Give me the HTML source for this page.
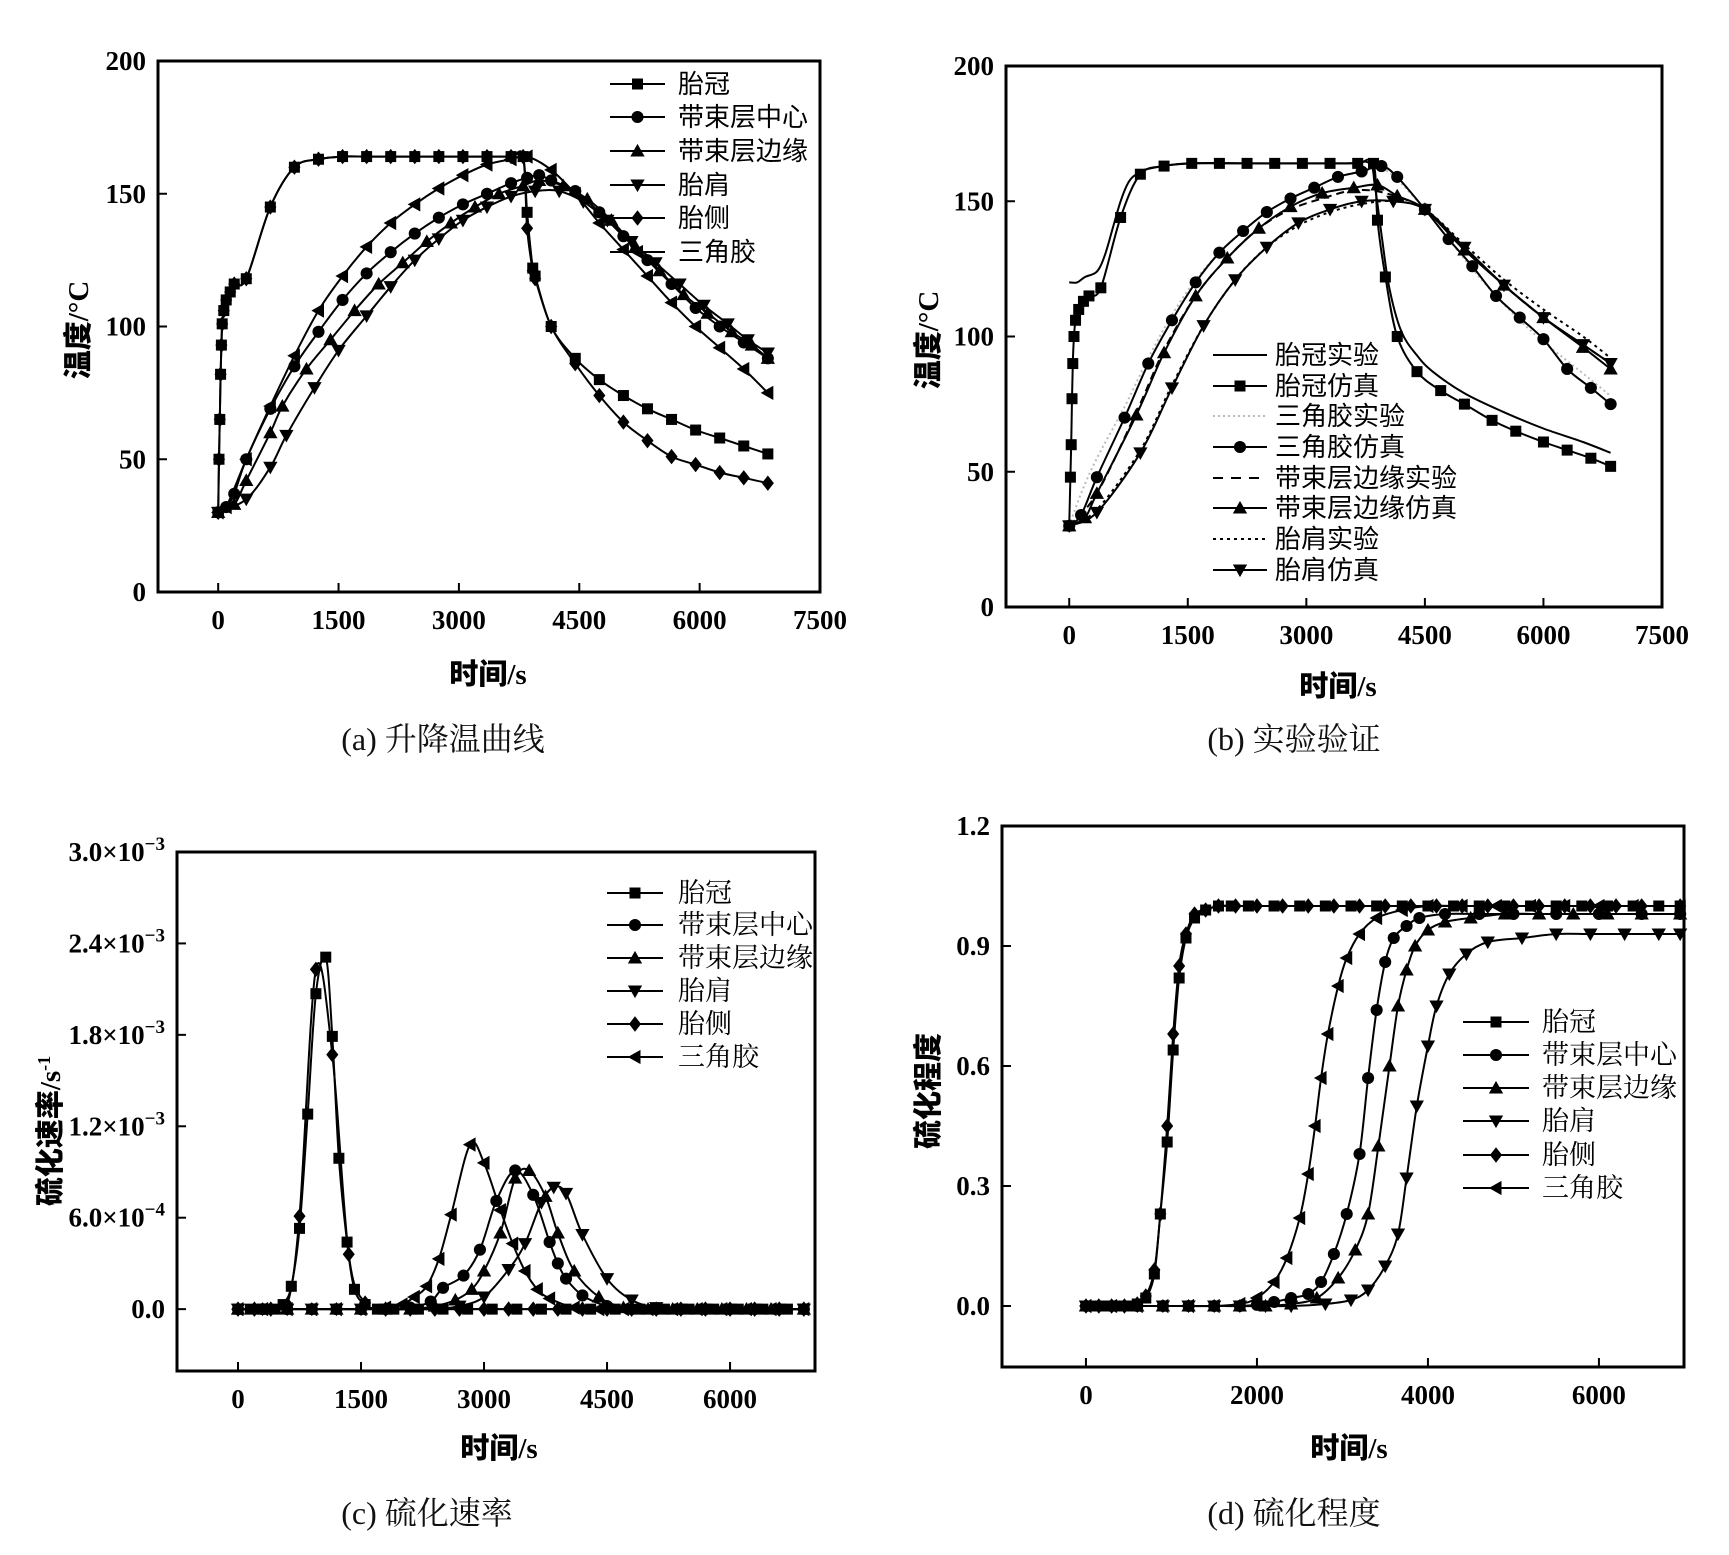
<!DOCTYPE html>
<html><head><meta charset="utf-8">
<style>
html,body{margin:0;padding:0;background:#fff;}
svg{display:block;}
.tick{font-family:"Liberation Serif","Noto Serif CJK SC",serif;font-weight:bold;font-size:27px;fill:#000;}
.ttl{font-family:"Liberation Serif","Noto Sans CJK SC",sans-serif;font-weight:900;font-size:29px;fill:#000;}
.cap{font-family:"Liberation Serif","Noto Serif CJK SC",serif;font-size:32px;fill:#111;}
.lg{font-family:"Liberation Serif","Noto Serif CJK SC",serif;font-size:27px;fill:#000;}
.lgs{font-family:"Liberation Sans","Noto Sans CJK SC",sans-serif;font-size:26px;fill:#000;}
</style></head>
<body>
<svg id="fig" width="1729" height="1555" viewBox="0 0 1729 1555" xmlns="http://www.w3.org/2000/svg">
<text class="cap" x="443" y="750" text-anchor="middle">(a) 升降温曲线</text>
<text class="cap" x="1294" y="750" text-anchor="middle">(b) 实验验证</text>
<text class="cap" x="427" y="1524" text-anchor="middle">(c) 硫化速率</text>
<text class="cap" x="1294" y="1524" text-anchor="middle">(d) 硫化程度</text>
<text class="ttl" x="488" y="684" text-anchor="middle">时间/s</text>
<text class="ttl" x="1338" y="696" text-anchor="middle">时间/s</text>
<text class="ttl" x="499" y="1458" text-anchor="middle">时间/s</text>
<text class="ttl" x="1349" y="1458" text-anchor="middle">时间/s</text>
<text class="ttl" transform="translate(88,330) rotate(-90)" text-anchor="middle">温度/°C</text>
<text class="ttl" transform="translate(938,340) rotate(-90)" text-anchor="middle">温度/°C</text>
<text class="ttl" transform="translate(60,1131) rotate(-90)" text-anchor="middle">硫化速率/s<tspan dy="-10" font-size="18">-1</tspan></text>
<text class="ttl" transform="translate(938,1091) rotate(-90)" text-anchor="middle">硫化程度</text>
</svg>
<script>
// ---------- Panel (a) data: time (s) and temperature (°C) ----------
const aRiseT = [0,10,20,30,40,50,70,100,150,200,350,650,950,1250,1550,1850,2150,2450,2750,3050,3350,3650,3800];
const aRiseV = [30,50,65,82,93,101,106,110,113,116,118,145,160,163,164,164,164,164,164,164,164,164,164];
const aCrownT = [3850,3920,3950,4150,4450,4750,5050,5350,5650,5950,6250,6550,6850];
const aCrownV = [143,122,119,100,88,80,74,69,65,61,58,55,52];
const aSideT = [3850,3920,3950,4150,4450,4750,5050,5350,5650,5950,6250,6550,6850];
const aSideV = [137,121,118,100,86,74,64,57,51,48,45,43,41];
const aApexT = [0,100,350,650,950,1250,1550,1850,2150,2450,2750,3050,3350,3650,3850,4150,4450,4750,5050,5350,5650,5950,6250,6550,6850];
const aApexV = [30,32,50,70,89,106,119,130,139,146,152,157,161,163,164,159,150,139,129,119,109,100,92,84,75];
const aBeltCT = [0,100,200,350,650,950,1250,1550,1850,2150,2450,2750,3050,3350,3650,3850,4000,4150,4450,4750,5050,5350,5650,5950,6250,6550,6850];
const aBeltCV = [30,32,37,50,69,85,98,110,120,128,135,141,146,150,154,156,157,155,151,143,134,125,116,107,100,94,88];
const aBeltET = [0,200,350,650,800,1100,1400,1700,2000,2300,2600,2900,3200,3500,3800,4000,4300,4600,4900,5200,5500,5800,6100,6400,6650,6850];
const aBeltEV = [30,33,42,60,70,84,95,106,116,124,132,139,145,150,153,155,153,148,140,130,121,112,105,98,93,88];
const aShT = [0,350,650,850,1200,1500,1850,2150,2450,2750,3050,3350,3650,3950,4250,4550,4850,5150,5450,5750,6050,6350,6600,6850];
const aShV = [30,35,47,59,77,91,104,115,125,133,140,145,149,151,151,147,140,132,124,116,108,101,95,90];

// ---------- Panel (b) data ----------
const bCrownExpT = [0,100,200,350,450,550,650,750,850,1000,1500,2500,3500,3800,3870,3950,4050,4200,4400,4600,5000,5500,6000,6500,6850];
const bCrownExpV = [120,120,122,124,130,140,150,157,160,162,164,164,164,164,155,138,118,102,93,87,79,72,66,61,57];
const bCrownSimT = [0,15,25,35,45,60,80,120,180,250,400,650,900,1200,1550,1900,2250,2600,2950,3300,3650,3850,3900,4000,4150,4400,4700,5000,5350,5650,6000,6300,6600,6850];
const bCrownSimV = [30,48,60,77,90,100,106,110,113,115,118,144,160,163,164,164,164,164,164,164,164,164,143,122,100,87,80,75,69,65,61,58,55,52];
const bApexExpT = [0,150,350,700,1000,1300,1600,1900,2200,2500,2800,3100,3400,3700,3950,4150,4500,4800,5100,5400,5700,6000,6300,6600,6850];
const bApexExpV = [30,42,55,74,92,108,121,131,139,146,151,155,159,161,162,158,147,136,125,115,106,98,91,84,78];
const bApexSimT = [0,150,350,700,1000,1300,1600,1900,2200,2500,2800,3100,3400,3700,3950,4150,4500,4800,5100,5400,5700,6000,6300,6600,6850];
const bApexSimV = [30,34,48,70,90,106,120,131,139,146,151,155,159,161,163,159,147,136,126,115,107,99,88,81,75];
const bBeltExpT = [0,350,850,1200,1600,2000,2400,2800,3200,3600,4000,4500,5000,5500,6000,6500,6850];
const bBeltExpV = [30,42,72,95,115,129,140,147,151,154,153,147,133,119,107,97,90];
const bBeltSimT = [0,200,350,850,1200,1600,2000,2400,2800,3200,3600,3900,4150,4500,5000,5500,6000,6500,6850];
const bBeltSimV = [30,33,42,71,94,115,129,140,148,153,155,156,152,147,132,119,107,96,88];
const bShExpT = [0,350,900,1300,1700,2100,2500,2900,3300,3700,4100,4500,5000,5500,6000,6500,6850];
const bShExpV = [30,36,58,82,104,121,133,141,146,149,150,147,134,121,110,100,92];
const bShSimT = [0,350,900,1300,1700,2100,2500,2900,3300,3700,4100,4500,5000,5500,6000,6500,6850];
const bShSimV = [30,35,57,81,104,121,133,142,147,150,150,147,133,119,107,97,90];

// ---------- Panel (c) data: rate in units of 1e-4 /s ----------
const cCrownT = [0,150,300,450,550,650,750,850,950,1070,1150,1230,1330,1420,1550,1700,1900,2200,2500,2800,3100,3400,3700,4000,4300,4600,4900,5200,5500,5800,6100,6400,6700,6900];
const cCrownV = [0,0,0,0,0.3,1.5,5.3,12.8,20.7,23.1,17.9,9.9,4.4,1.3,0.3,0,0,0,0,0,0,0,0,0,0,0,0,0,0,0,0,0,0,0];
const cSideT = [0,200,400,600,750,950,1150,1350,1550,1800,2100,2400,2700,3000,3300,3600,3900,4200,4500,4800,5100,5400,5700,6000,6300,6600,6900];
const cSideV = [0,0,0,0.3,6.1,22.3,16.7,3.6,0.4,0,0,0,0,0,0,0,0,0,0,0,0,0,0,0,0,0,0,0];
const cApexT = [0,300,600,900,1200,1500,1800,2000,2150,2300,2450,2600,2830,3000,3200,3350,3500,3650,3800,4100,4400,4700,5000,5300,5600,5900,6200,6500,6900];
const cApexV = [0,0,0,0,0,0,0.1,0.3,0.8,1.5,3.3,6.2,10.8,9.6,6.5,4.3,2.5,1.3,0.7,0.1,0,0,0,0,0,0,0,0,0];
const cBeltCT = [0,300,600,900,1200,1500,1800,2100,2350,2500,2750,2950,3150,3380,3600,3800,3900,4000,4200,4500,4800,5100,5400,5700,6000,6300,6600,6900];
const cBeltCV = [0,0,0,0,0,0,0,0.1,0.5,1.4,2.2,3.9,7.1,9.1,7.5,4.4,3.0,2.0,0.9,0.2,0,0,0,0,0,0,0,0];
const cBeltET = [0,300,600,900,1200,1500,1800,2100,2400,2650,2850,3000,3200,3380,3550,3750,3900,4100,4400,4700,5000,5300,5600,5900,6200,6500,6900];
const cBeltEV = [0,0,0,0,0,0,0,0,0.2,0.6,1.3,2.5,5.0,8.6,9.1,7.4,5.0,2.5,0.8,0.1,0,0,0,0,0,0,0];
const cShT = [0,300,600,900,1200,1500,1800,2100,2400,2700,3000,3300,3500,3700,3850,4000,4200,4500,4800,5100,5400,5700,6000,6300,6600,6900];
const cShV = [0,0,0,0,0,0,0,0,0,0.2,0.8,2.6,4.3,7.0,8.0,7.6,4.9,2.0,0.6,0.1,0,0,0,0,0,0];

// ---------- Panel (d) data: cure degree ----------
const dCrownT = [0,100,200,300,400,500,600,700,800,870,950,1020,1090,1170,1270,1400,1550,1700,1900,2200,2500,2800,3100,3400,3700,4000,4300,4600,4900,5200,5500,5800,6100,6400,6700,6950];
const dCrownV = [0,0,0,0,0,0,0.005,0.02,0.08,0.23,0.41,0.64,0.82,0.92,0.97,0.99,1,1,1,1,1,1,1,1,1,1,1,1,1,1,1,1,1,1,1,1];
const dSideT = [0,150,300,450,600,700,800,870,950,1020,1090,1170,1270,1400,1550,1750,2000,2300,2600,2900,3200,3500,3800,4100,4400,4700,5000,5300,5600,5900,6200,6500,6950];
const dSideV = [0,0,0,0,0.005,0.025,0.09,0.23,0.45,0.68,0.85,0.93,0.98,0.99,1,1,1,1,1,1,1,1,1,1,1,1,1,1,1,1,1,1,1];
const dApexT = [0,300,600,900,1200,1500,1800,2000,2200,2350,2500,2600,2680,2750,2830,2950,3050,3200,3400,3700,4000,4400,4800,5200,5600,6000,6400,6950];
const dApexV = [0,0,0,0,0,0,0.005,0.02,0.06,0.12,0.22,0.33,0.45,0.57,0.68,0.8,0.87,0.93,0.97,0.99,1,1,1,1,1,1,1,1];
const dBeltCT = [0,300,600,900,1200,1500,1800,2000,2200,2400,2600,2750,2900,3050,3200,3300,3400,3500,3600,3750,3900,4200,4600,5000,5500,6000,6500,6950];
const dBeltCV = [0,0,0,0,0,0,0,0.003,0.01,0.02,0.03,0.06,0.13,0.23,0.38,0.57,0.74,0.86,0.92,0.95,0.97,0.98,0.98,0.98,0.98,0.98,0.98,0.98];
const dBeltET = [0,300,600,900,1200,1500,1800,2100,2400,2700,2950,3150,3300,3420,3550,3650,3750,3850,4000,4200,4500,4900,5300,5700,6100,6500,6950];
const dBeltEV = [0,0,0,0,0,0,0,0,0.005,0.02,0.07,0.14,0.23,0.4,0.6,0.75,0.84,0.9,0.94,0.96,0.97,0.98,0.98,0.98,0.98,0.98,0.98];
const dShT = [0,300,600,900,1200,1500,1800,2100,2400,2800,3100,3300,3500,3650,3750,3870,4000,4100,4250,4450,4700,5100,5500,5900,6300,6700,6950];
const dShV = [0,0,0,0,0,0,0,0,0,0.005,0.015,0.04,0.1,0.18,0.32,0.5,0.65,0.75,0.83,0.88,0.91,0.92,0.93,0.93,0.93,0.93,0.93];

const NS = 'http://www.w3.org/2000/svg';
const fig = document.getElementById('fig');
function mk(tag, attrs, parent) {
  const e = document.createElementNS(NS, tag);
  for (const k in attrs) e.setAttribute(k, attrs[k]);
  (parent || fig).appendChild(e);
  return e;
}
function makeAxis(L, R, T, B, x0, x1, y0, y1) {
  return {
    L, R, T, B,
    sx: v => L + (v - x0) / (x1 - x0) * (R - L),
    sy: v => B - (v - y0) / (y1 - y0) * (B - T)
  };
}
function curvePath(pts) {
  if (pts.length < 2) return '';
  let d = 'M' + pts[0][0].toFixed(1) + ',' + pts[0][1].toFixed(1);
  for (let i = 0; i < pts.length - 1; i++) {
    const p0 = pts[i - 1] || pts[i], p1 = pts[i], p2 = pts[i + 1], p3 = pts[i + 2] || p2;
    const t = 6;
    const c1 = [p1[0] + (p2[0] - p0[0]) / t, p1[1] + (p2[1] - p0[1]) / t];
    const c2 = [p2[0] - (p3[0] - p1[0]) / t, p2[1] - (p3[1] - p1[1]) / t];
    d += ' C' + c1[0].toFixed(1) + ',' + c1[1].toFixed(1) + ' ' + c2[0].toFixed(1) + ',' + c2[1].toFixed(1) + ' ' + p2[0].toFixed(1) + ',' + p2[1].toFixed(1);
  }
  return d;
}
function marker(g, type, x, y, s) {
  let e;
  if (type === 'square') e = mk('rect', {x: x - s * 0.5, y: y - s * 0.5, width: s, height: s, fill: '#000'}, g);
  else if (type === 'circle') e = mk('circle', {cx: x, cy: y, r: s * 0.55, fill: '#000'}, g);
  else if (type === 'up') e = mk('polygon', {points: `${x},${y - s * 0.65} ${x - s * 0.65},${y + s * 0.5} ${x + s * 0.65},${y + s * 0.5}`, fill: '#000'}, g);
  else if (type === 'down') e = mk('polygon', {points: `${x},${y + s * 0.65} ${x - s * 0.65},${y - s * 0.5} ${x + s * 0.65},${y - s * 0.5}`, fill: '#000'}, g);
  else if (type === 'diamond') e = mk('polygon', {points: `${x},${y - s * 0.7} ${x + s * 0.55},${y} ${x},${y + s * 0.7} ${x - s * 0.55},${y}`, fill: '#000'}, g);
  else if (type === 'left') e = mk('polygon', {points: `${x - s * 0.65},${y} ${x + s * 0.5},${y - s * 0.65} ${x + s * 0.5},${y + s * 0.65}`, fill: '#000'}, g);
  if (e) {
    
    
  }
}
function series(ax, name, xs, ys, yMul, mtype, style) {
  const g = mk('g', {});
  
  
  const pts = xs.map((x, i) => [ax.sx(x), ax.sy(ys[i] * yMul)]);
  const p = mk('path', {d: curvePath(pts), fill: 'none', stroke: style.color || '#000', 'stroke-width': style.w || 2, 'stroke-dasharray': style.dash || 'none'}, g);
  
  
  if (mtype) pts.forEach(q => marker(g, mtype, q[0], q[1], 11));
}
function frame(ax, name, xt, xl, yt, yl, xLabY) {
  const g = mk('g', {});
  
  
  const r = mk('rect', {x: ax.L, y: ax.T, width: ax.R - ax.L, height: ax.B - ax.T, fill: 'none', stroke: '#000', 'stroke-width': 3}, g);
  
  
  xt.forEach((v, i) => {
    const x = ax.sx(v);
    const tk = mk('line', {x1: x, x2: x, y1: ax.B, y2: ax.B - 9, stroke: '#000', 'stroke-width': 2}, g);
    
    
    const t = mk('text', {x: x, y: ax.B + (xLabY || 37), 'text-anchor': 'middle', class: 'tick'}, g);
    
    
    t.textContent = xl[i];
  });
  yt.forEach((v, i) => {
    const y = ax.sy(v);
    const tk = mk('line', {x1: ax.L, x2: ax.L + 9, y1: y, y2: y, stroke: '#000', 'stroke-width': 2}, g);
    
    
    const t = mk('text', {x: ax.L - 12, y: y + 9, 'text-anchor': 'end', class: 'tick'}, g);
    
    
    if (Array.isArray(yl[i])) {
      t.textContent = yl[i][0];
      const s = mk('tspan', {dy: -11, 'font-size': 19}, t);
      s.textContent = yl[i][1];
    } else t.textContent = yl[i];
  });
}
function legend(name, x1, x2, tx, ys, labels, types, cls, styles) {
  const g = mk('g', {});
  
  
  labels.forEach((lab, i) => {
    const y = ys[i];
    const st = (styles && styles[i]) || {};
    const e = mk('g', {}, g);
    
    
    mk('line', {x1: x1, x2: x2, y1: y, y2: y, stroke: st.color || '#000', 'stroke-width': 2, 'stroke-dasharray': st.dash || 'none'}, e);
    if (types[i]) marker(e, types[i], (x1 + x2) / 2, y, 11);
    const t = mk('text', {x: tx, y: y + 9, class: cls}, e);
    t.textContent = lab;
  });
}

// ----- Panel a -----
const axA = makeAxis(158, 820, 61, 592, -750, 7500, 0, 200);
frame(axA, 'panel-a-axes', [0,1500,3000,4500,6000,7500], ['0','1500','3000','4500','6000','7500'], [0,50,100,150,200], ['0','50','100','150','200']);
series(axA, 'series-a-crown', aRiseT.concat(aCrownT), aRiseV.concat(aCrownV), 1, 'square', {});
series(axA, 'series-a-sidewall', aRiseT.concat(aSideT), aRiseV.concat(aSideV), 1, 'diamond', {});
series(axA, 'series-a-apex', aApexT, aApexV, 1, 'left', {});
series(axA, 'series-a-belt-center', aBeltCT, aBeltCV, 1, 'circle', {});
series(axA, 'series-a-belt-edge', aBeltET, aBeltEV, 1, 'up', {});
series(axA, 'series-a-shoulder', aShT, aShV, 1, 'down', {});
legend('legend-a', 610, 665, 678, [84,117,151,185,218,252], ['胎冠','带束层中心','带束层边缘','胎肩','胎侧','三角胶'], ['square','circle','up','down','diamond','left'], 'lgs');

// ----- Panel b -----
const axB = makeAxis(1006, 1662, 66, 607, -800, 7500, 0, 200);
frame(axB, 'panel-b-axes', [0,1500,3000,4500,6000,7500], ['0','1500','3000','4500','6000','7500'], [0,50,100,150,200], ['0','50','100','150','200']);
series(axB, 'series-b-apex-exp', bApexExpT, bApexExpV, 1, null, {color: '#bbb', dash: '2 3', w: 2});
series(axB, 'series-b-crown-exp', bCrownExpT, bCrownExpV, 1, null, {});
series(axB, 'series-b-crown-sim', bCrownSimT, bCrownSimV, 1, 'square', {});
series(axB, 'series-b-apex-sim', bApexSimT, bApexSimV, 1, 'circle', {});
series(axB, 'series-b-belt-exp', bBeltExpT, bBeltExpV, 1, null, {dash: '8 5'});
series(axB, 'series-b-belt-sim', bBeltSimT, bBeltSimV, 1, 'up', {});
series(axB, 'series-b-shoulder-exp', bShExpT, bShExpV, 1, null, {dash: '3 4'});
series(axB, 'series-b-shoulder-sim', bShSimT, bShSimV, 1, 'down', {});
legend('legend-b', 1213, 1267, 1275, [355,386,416,447,478,508,539,570], ['胎冠实验','胎冠仿真','三角胶实验','三角胶仿真','带束层边缘实验','带束层边缘仿真','胎肩实验','胎肩仿真'], [null,'square',null,'circle',null,'up',null,'down'], 'lgs', [{}, {}, {color: '#bbb', dash: '2 3'}, {}, {dash: '10 8'}, {}, {dash: '3 4'}, {}]);

// ----- Panel c -----
const axC = makeAxis(177, 815, 852, 1371, -744, 7036, -0.000406, 0.003);
frame(axC, 'panel-c-axes', [0,1500,3000,4500,6000], ['0','1500','3000','4500','6000'], [0,0.0006,0.0012,0.0018,0.0024,0.003], ['0.0',['6.0×10','−4'],['1.2×10','−3'],['1.8×10','−3'],['2.4×10','−3'],['3.0×10','−3']]);
series(axC, 'series-c-crown', cCrownT, cCrownV, 1e-4, 'square', {});
series(axC, 'series-c-sidewall', cSideT, cSideV, 1e-4, 'diamond', {});
series(axC, 'series-c-apex', cApexT, cApexV, 1e-4, 'left', {});
series(axC, 'series-c-belt-center', cBeltCT, cBeltCV, 1e-4, 'circle', {});
series(axC, 'series-c-belt-edge', cBeltET, cBeltEV, 1e-4, 'up', {});
series(axC, 'series-c-shoulder', cShT, cShV, 1e-4, 'down', {});
legend('legend-c', 607, 663, 678, [893,925,958,991,1024,1057], ['胎冠','带束层中心','带束层边缘','胎肩','胎侧','三角胶'], ['square','circle','up','down','diamond','left'], 'lg');

// ----- Panel d -----
const axD = makeAxis(1002, 1684, 826, 1367, -982, 6995, -0.1525, 1.2);
frame(axD, 'panel-d-axes', [0,2000,4000,6000], ['0','2000','4000','6000'], [0,0.3,0.6,0.9,1.2], ['0.0','0.3','0.6','0.9','1.2']);
series(axD, 'series-d-crown', dCrownT, dCrownV, 1, 'square', {});
series(axD, 'series-d-sidewall', dSideT, dSideV, 1, 'diamond', {});
series(axD, 'series-d-apex', dApexT, dApexV, 1, 'left', {});
series(axD, 'series-d-belt-center', dBeltCT, dBeltCV, 1, 'circle', {});
series(axD, 'series-d-belt-edge', dBeltET, dBeltEV, 1, 'up', {});
series(axD, 'series-d-shoulder', dShT, dShV, 1, 'down', {});
legend('legend-d', 1463, 1529, 1542, [1022,1055,1088,1121,1155,1188], ['胎冠','带束层中心','带束层边缘','胎肩','胎侧','三角胶'], ['square','circle','up','down','diamond','left'], 'lg');
</script>
</body></html>
